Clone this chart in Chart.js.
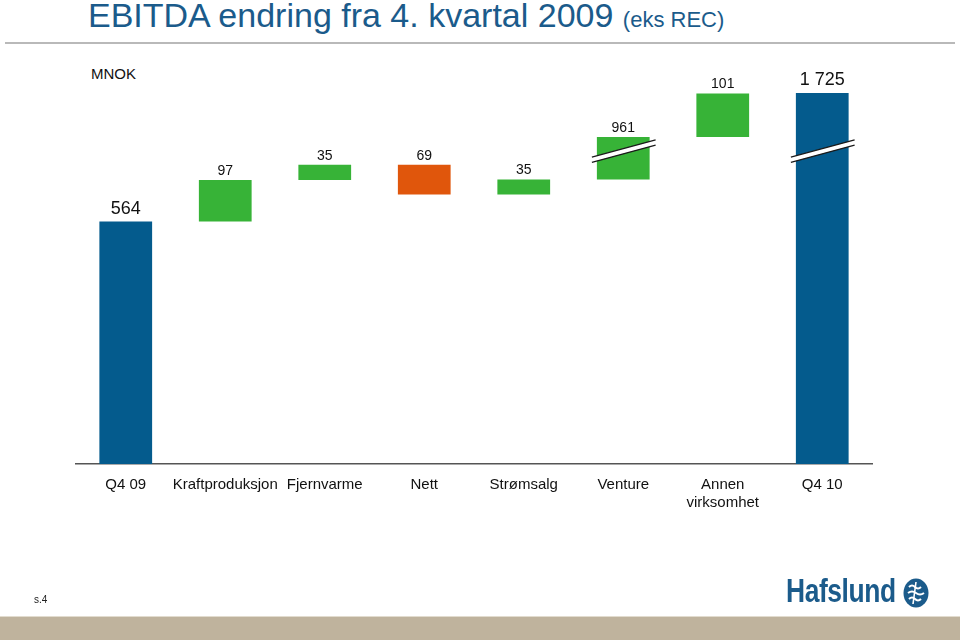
<!DOCTYPE html>
<html>
<head>
<meta charset="utf-8">
<script src="https://cdn.jsdelivr.net/npm/chart.js@4.4.1/dist/chart.umd.min.js"></script>
<style>
  html, body { margin: 0; padding: 0; background: #fff; }
  body { width: 960px; height: 640px; position: relative; overflow: hidden; font-family: "Liberation Sans", Arial, sans-serif; }
  #title { position: absolute; left: 88px; top: -5px; font-size: 34px; line-height: 40px; color: #1b5b8b; white-space: nowrap; }
  #title small { font-size: 22px; }
  #rule { position: absolute; left: 5px; right: 5px; top: 42px; height: 2px; background: #b9b9b9; }
  #unit { position: absolute; left: 91px; top: 65px; font-size: 15px; color: #111; }
  #page { position: absolute; left: 34px; top: 594px; font-size: 10px; color: #222; }
  #band { position: absolute; left: 0; right: 0; top: 616px; height: 24px; background: #bfb39d; border-top: 1px solid #e2dccf; }
  #logo { position: absolute; left: 786px; top: 572px; font-weight: bold; font-size: 33px; line-height: 38px; color: #1b5b8b; letter-spacing: -0.5px; transform: scaleX(0.8); transform-origin: 0 0; }
  #mark { position: absolute; left: 903px; top: 578px; }
  canvas { position: absolute; left: 0; top: 0; }
</style>
</head>
<body>
<div id="title">EBITDA endring fra 4. kvartal 2009 <small>(eks REC)</small></div>
<div id="rule"></div>
<div id="unit">MNOK</div>
<canvas id="chart" width="960" height="640"></canvas>
<div id="page">s.4</div>
<div id="band"></div>
<div id="logo">Hafslund</div>
<svg id="mark" width="26" height="30" viewBox="0 0 26 30">
  <ellipse cx="13" cy="15" rx="12.5" ry="14.5" fill="#1b5b8b"/>
  <path d="M6 9 q3 -3 6 0 t6 0" stroke="#fff" stroke-width="2" fill="none"/>
  <path d="M5 15 q4 -3 8 0 t8 0" stroke="#fff" stroke-width="2" fill="none"/>
  <path d="M6 21 q3 -3 6 0 t6 0" stroke="#fff" stroke-width="2" fill="none"/>
  <path d="M13 4 L10 26" stroke="#fff" stroke-width="1.6" fill="none"/>
</svg>

<script>
const categories = ["Q4 09", "Kraftproduksjon", "Fjernvarme", "Nett", "Strømsalg", "Venture", ["Annen", "virksomhet"], "Q4 10"];
const changes = [564, 97, 35, -69, 35, 961, 101, 1725];
const kinds = ["total", "up", "up", "down", "up", "up", "up", "total"];
const valueLabels = ["564", "97", "35", "69", "35", "961", "101", "1 725"];

// the axis is broken: this much is cut out of the Venture bar and the final total
const cutAmount = 862;
const brokenBars = [5, 7];
const breakLevel = 728;

const colours = { total: "#045b8d", up: "#37b337", down: "#e0560c" };

// build floating bars [from, to] in the compressed scale
let running = 0;
const bars = changes.map((v, i) => {
  const shown = brokenBars.includes(i) ? v - cutAmount * Math.sign(v) : v;
  if (kinds[i] === "total") {
    running = shown;
    return [0, shown];
  }
  const from = running;
  running += shown;
  return [from, running];
});

const labelPlugin = {
  id: "valueLabels",
  afterDatasetsDraw(chart) {
    const ctx = chart.ctx;
    const meta = chart.getDatasetMeta(0);
    ctx.save();
    ctx.fillStyle = "#111";
    ctx.textAlign = "center";
    ctx.textBaseline = "bottom";
    meta.data.forEach((bar, i) => {
      const top = Math.min(bar.y, bar.base);
      const big = kinds[i] === "total";
      ctx.font = (big ? "18px" : "14px") + ' "Liberation Sans", Arial, sans-serif';
      ctx.fillText(valueLabels[i], bar.x, top - (big ? 4 : 2));
    });
    ctx.restore();
  }
};

const breakPlugin = {
  id: "axisBreak",
  afterDatasetsDraw(chart) {
    const ctx = chart.ctx;
    const meta = chart.getDatasetMeta(0);
    const yc = chart.scales.y.getPixelForValue(breakLevel);
    ctx.save();
    brokenBars.forEach(i => {
      const bar = meta.data[i];
      const x0 = bar.x - bar.width / 2 - 5;
      const x1 = bar.x + bar.width / 2 + 6;
      const rise = (x1 - x0) * 0.135;
      const gap = 2.6;
      ctx.beginPath();
      ctx.moveTo(x0, yc - gap + rise);
      ctx.lineTo(x1, yc - gap - rise);
      ctx.lineTo(x1, yc + gap - rise);
      ctx.lineTo(x0, yc + gap + rise);
      ctx.closePath();
      ctx.fillStyle = "#fff";
      ctx.fill();
      ctx.strokeStyle = "#1a1a1a";
      ctx.lineWidth = 1.3;
      ctx.beginPath();
      ctx.moveTo(x0, yc - gap + rise);
      ctx.lineTo(x1, yc - gap - rise);
      ctx.moveTo(x0, yc + gap + rise);
      ctx.lineTo(x1, yc + gap - rise);
      ctx.stroke();
    });
    ctx.restore();
  }
};

new Chart(document.getElementById("chart"), {
  type: "bar",
  data: {
    labels: categories,
    datasets: [{
      data: bars,
      backgroundColor: kinds.map(k => colours[k]),
      borderWidth: 0,
      barPercentage: 0.53,
      categoryPercentage: 1
    }]
  },
  options: {
    responsive: false,
    animation: false,
    layout: { padding: { left: 76, right: 88, top: 60, bottom: 116 } },
    plugins: { legend: { display: false }, tooltip: { enabled: false } },
    scales: {
      x: {
        grid: { display: false, drawTicks: false },
        border: { display: true, color: "#555", width: 1.5 },
        ticks: {
          color: "#111",
          padding: 12,
          maxRotation: 0,
          autoSkip: false,
          font: { family: '"Liberation Sans", Arial, sans-serif', size: 15 }
        },
        afterFit(scale) { scale.height = 60; }
      },
      y: {
        display: false,
        min: 0,
        max: 940
      }
    }
  },
  plugins: [labelPlugin, breakPlugin]
});
</script>
</body>
</html>
